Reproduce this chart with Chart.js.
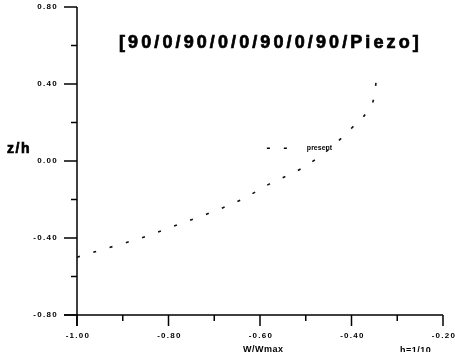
<!DOCTYPE html>
<html>
<head>
<meta charset="utf-8">
<script src="https://cdn.jsdelivr.net/npm/chart.js@4"></script>
<style>
  body { margin: 0; background: #fff; }
  canvas { display: block; }
</style>
</head>
<body>
<canvas id="myChart" width="455" height="352"></canvas>
<script>
// deflection curve W/Wmax against z/h
var wValues = [-1.00, -0.93, -0.86, -0.79, -0.71, -0.64, -0.58, -0.51, -0.45, -0.40, -0.365, -0.35, -0.345];
var zValues = [-0.50, -0.45, -0.40, -0.34, -0.27, -0.20, -0.12, -0.04, 0.06, 0.17, 0.26, 0.34, 0.44];
var seriesLabel = 'present';
var chartTitle = '[90/0/90/0/0/90/0/90/Piezo]';

var FONT = "'Liberation Sans', Arial, sans-serif";

var points = wValues.map(function (w, i) { return {x: w, y: zValues[i]}; });

// axes, ticks, labels and texts drawn by hand to get the plotter look
var drawPlot = {
  id: 'drawPlot',
  afterDraw: function (chart) {
    var ctx = chart.ctx;
    var a = chart.chartArea;
    var xs = chart.scales.x, ys = chart.scales.y;
    ctx.save();
    ctx.strokeStyle = '#000';
    ctx.fillStyle = '#000';
    ctx.lineWidth = 1.5;

    // axis lines
    ctx.beginPath();
    ctx.moveTo(a.left, a.top);
    ctx.lineTo(a.left, a.bottom + 11);
    ctx.moveTo(a.left - 13, a.bottom);
    ctx.lineTo(a.right, a.bottom);
    ctx.stroke();

    ctx.font = 'bold 8px ' + FONT;
    ctx.letterSpacing = '1.3px';

    // y ticks
    ys.ticks.forEach(function (t) {
      var py = ys.getPixelForValue(t.value);
      var major = Math.round(t.value * 10) % 4 === 0;
      ctx.beginPath();
      ctx.moveTo(a.left - (major ? 13 : 6), py);
      ctx.lineTo(a.left, py);
      ctx.stroke();
      if (major) {
        ctx.textAlign = 'right';
        ctx.textBaseline = 'middle';
        ctx.fillText(t.value.toFixed(2), a.left - 19, py);
      }
    });

    // x ticks
    xs.ticks.forEach(function (t) {
      var px = xs.getPixelForValue(t.value);
      var major = Math.round(t.value * 10) % 2 === 0;
      ctx.beginPath();
      ctx.moveTo(px, a.bottom);
      ctx.lineTo(px, a.bottom + (major ? 11 : 6));
      ctx.stroke();
      if (major) {
        ctx.textAlign = 'center';
        ctx.textBaseline = 'middle';
        ctx.fillText(t.value.toFixed(2), px + 1, a.bottom + 21);
      }
    });

    // title
    ctx.font = 'bold 18px ' + FONT;
    ctx.letterSpacing = '3.1px';
    ctx.textAlign = 'left';
    ctx.textBaseline = 'middle';
    ctx.lineWidth = 0.7;
    ctx.fillText(chartTitle, 119, 43);
    ctx.strokeText(chartTitle, 119, 43);

    // axis titles
    ctx.font = 'bold 14px ' + FONT;
    ctx.letterSpacing = '1.5px';
    ctx.fillText('z/h', 7, 149);
    ctx.strokeText('z/h', 7, 149);
    ctx.font = 'bold 9px ' + FONT;
    ctx.letterSpacing = '0.5px';
    ctx.fillText('W/Wmax', 243, 350);
    ctx.fillText('h=1/10', 400, 351);

    // legend
    var lx = xs.getPixelForValue(-0.585), ly = ys.getPixelForValue(0.066);
    ctx.setLineDash([3, 14]);
    ctx.lineWidth = 1.6;
    ctx.beginPath();
    ctx.moveTo(lx, ly);
    ctx.lineTo(lx + 22, ly);
    ctx.stroke();
    ctx.setLineDash([]);
    ctx.font = 'bold 7px ' + FONT;
    ctx.letterSpacing = '0px';
    ctx.fillText(seriesLabel, lx + 40, ly);
    ctx.restore();
  }
};

var ctx = document.getElementById('myChart').getContext('2d');
var myChart = new Chart(ctx, {
  type: 'scatter',
  data: {
    datasets: [{
      label: seriesLabel,
      data: points,
      showLine: true,
      borderColor: '#111',
      borderWidth: 1.6,
      borderDash: [3, 14],
      pointRadius: 0,
      cubicInterpolationMode: 'monotone',
      fill: false
    }]
  },
  options: {
    responsive: false,
    animation: false,
    devicePixelRatio: 1,
    layout: {padding: {top: 7, right: 12, left: 0, bottom: 0}},
    plugins: {
      legend: {display: false},
      title: {display: false},
      tooltip: {enabled: false}
    },
    scales: {
      x: {
        min: -1,
        max: -0.2,
        ticks: {stepSize: 0.1, display: false},
        grid: {display: false},
        border: {display: false},
        afterFit: function (s) { s.height = 37; }
      },
      y: {
        min: -0.8,
        max: 0.8,
        ticks: {stepSize: 0.2, display: false},
        grid: {display: false},
        border: {display: false},
        afterFit: function (s) { s.width = 77; }
      }
    }
  },
  plugins: [drawPlot]
});
</script>
</body>
</html>
